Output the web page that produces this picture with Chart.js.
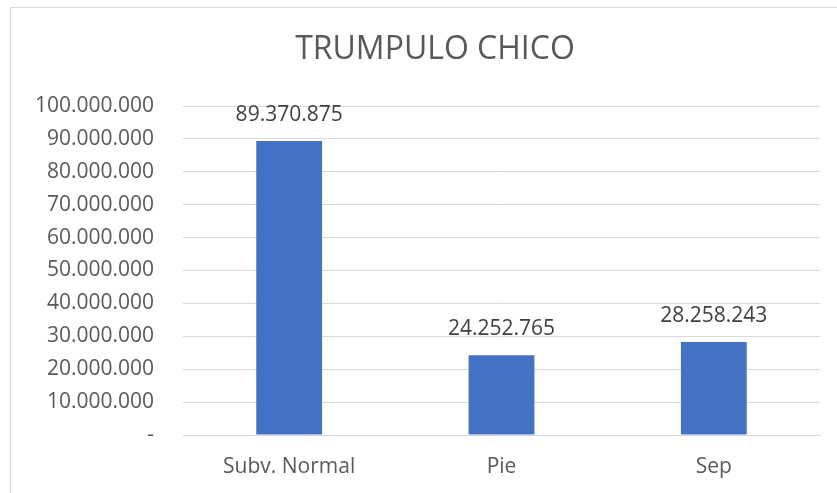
<!DOCTYPE html>
<html>
<head>
<meta charset="utf-8">
<title>TRUMPULO CHICO</title>
<script src="https://cdn.jsdelivr.net/npm/chart.js@4.4.0/dist/chart.umd.min.js"></script>
<style>
  html, body { margin: 0; padding: 0; background: #fff; overflow: hidden; }
  #frame { position: absolute; left: 10px; top: 7px; width: 900px; height: 600px; border: 1px solid #d9d9d9; }
  #wrap { position: absolute; left: 0; top: 0; width: 837px; height: 493px; }
</style>
</head>
<body>
<div id="frame"></div>
<div id="wrap"><canvas id="chartA"></canvas></div>
<script>
'use strict';

var chartTitle = 'TRUMPULO CHICO';
var categories = ['Subv. Normal', 'Pie', 'Sep'];
var values = [89370875, 24252765, 28258243];
var yTicks = [0, 10000000, 20000000, 30000000, 40000000, 50000000, 60000000, 70000000, 80000000, 90000000, 100000000];

var textColor = '#595959';
var fontFamily = '"Open Sans", "Noto Sans", sans-serif';

// dots as thousands separators, zero shown as "-"
function fmt(v) {
  if (v === 0) return '-';
  return String(Math.round(v)).replace(/\B(?=(\d{3})+(?!\d))/g, '.');
}

// title is centred on the frame, not on the canvas, so draw it here
// and the value above each bar
var barLabels = {
  id: 'barLabels',
  afterDatasetsDraw: function(chart) {
    var ctx = chart.ctx;
    var meta = chart.getDatasetMeta(0);
    ctx.save();
    ctx.textAlign = 'center';
    ctx.textBaseline = 'middle';
    ctx.fillStyle = textColor;
    ctx.font = '32px ' + fontFamily;
    ctx.fillText(chartTitle, 435, 50);
    ctx.font = '21px ' + fontFamily;
    ctx.fillStyle = '#404040';
    meta.data.forEach(function(bar, i) {
      ctx.fillText(fmt(values[i]), bar.x, bar.y - 26);
    });
    ctx.restore();
  }
};

function makeChartA() {
  var ctx = document.getElementById('chartA');
  var chart = new Chart(ctx, {
    type: 'bar',
    data: {
      labels: categories,
      datasets: [{
        data: values,
        backgroundColor: '#4472c4',
        barPercentage: 0.31,
        categoryPercentage: 1
      }]
    },
    options: {
      responsive: true,
      maintainAspectRatio: false,
      animation: false,
      layout: { padding: { left: 0, right: 17, top: 106, bottom: 0 } },
      plugins: {
        legend: { display: false },
        tooltip: { enabled: false },
        title: { display: false }
      },
      scales: {
        x: {
          grid: { display: false, drawTicks: false },
          border: { display: true, color: '#d9d9d9', width: 1 },
          ticks: { color: textColor, font: { family: fontFamily, size: 21 }, padding: 19 },
          afterFit: function(scale) { scale.height = 58; }
        },
        y: {
          min: 0,
          max: 100000000,
          afterBuildTicks: function(scale) {
            scale.ticks = yTicks.map(function(v) { return { value: v }; });
          },
          grid: { color: '#d9d9d9', drawTicks: false, lineWidth: 1 },
          border: { display: false },
          ticks: {
            color: textColor,
            font: { family: fontFamily, size: 21 },
            padding: 29,
            callback: function(v) { return fmt(v); }
          },
          afterFit: function(scale) { scale.width = 183; }
        }
      }
    },
    plugins: [barLabels]
  });
  return chart;
}

makeChartA();
</script>
</body>
</html>
